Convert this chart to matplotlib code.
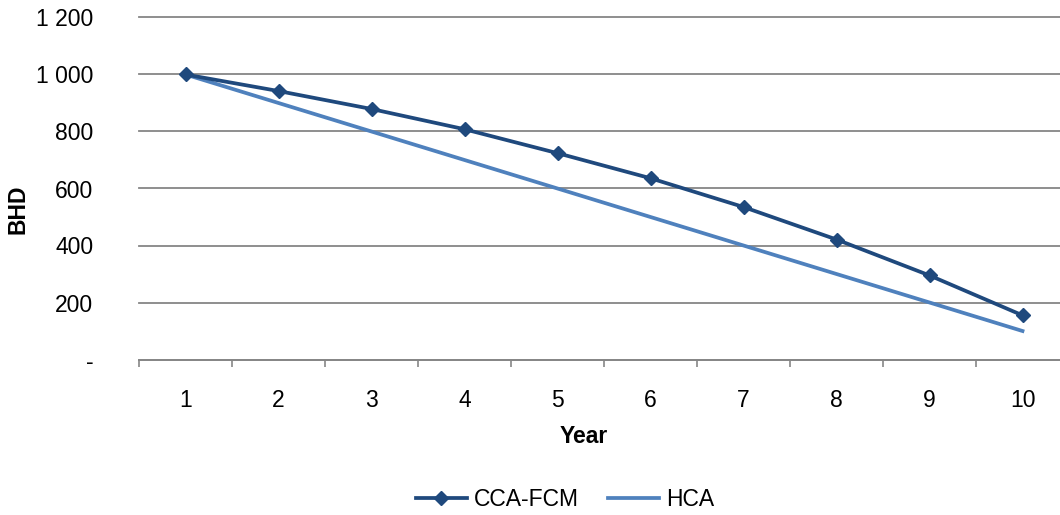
import numpy as np
import matplotlib.pyplot as plt
from matplotlib.ticker import FixedLocator

plt.rcParams['font.family'] = ['Liberation Sans', 'DejaVu Sans']

years = [1, 2, 3, 4, 5, 6, 7, 8, 9, 10]
cca_fcm = [1000, 942, 879, 808, 724, 636, 535, 421, 295, 155]
hca = [1000, 900, 800, 700, 600, 500, 400, 300, 200, 100]
yticks = [0, 200, 400, 600, 800, 1000, 1200]
ylabels = ['-', '200', '400', '600', '800', '1 000', '1 200']

dark = '#1F497D'
light = '#4F81BD'
grid = '#868686'
fs = 16.5

fig = plt.figure(figsize=(10.6, 5.15), dpi=100)
ax = fig.add_axes([139 / 1060, 1 - 359.5 / 515, 930 / 1060, 342 / 515])

ax.plot(years, cca_fcm, color=dark, lw=2.7, marker='D', ms=7, label='CCA-FCM', zorder=3)
ax.plot(years, hca, color=light, lw=2.7, label='HCA', zorder=2)

ax.set_xlim(0.5, 10.5)
ax.set_ylim(0, 1200)

ax.set_yticks(yticks)
ax.set_yticklabels(ylabels)
ax.set_xticks(years)
ax.xaxis.set_minor_locator(FixedLocator(np.arange(0.5, 10.6, 1)))
ax.tick_params(axis='y', length=0, pad=33, labelsize=fs)
ax.tick_params(axis='x', which='major', length=0, pad=21, labelsize=fs)
ax.tick_params(axis='x', which='minor', length=5, width=1.2, color=grid, direction='out')

ax.grid(axis='y', color=grid, lw=1.3)
for gl in ax.get_ygridlines():
    gl.set_clip_on(False)
ax.set_axisbelow(True)
for s in ['top', 'right', 'left']:
    ax.spines[s].set_visible(False)
ax.spines['bottom'].set_color(grid)
ax.spines['bottom'].set_linewidth(1.3)

ax.set_xlabel('Year', fontsize=fs, fontweight='bold', va='center')
ax.xaxis.set_label_coords(0.4785, -0.2256)
ax.set_ylabel('BHD', fontsize=fs, fontweight='bold', va='center')
ax.yaxis.set_label_coords(-0.1296, 0.44)

fig.legend(loc='center', bbox_to_anchor=(565 / 1060, 1 - 500 / 515), ncol=2, frameon=False,
           fontsize=fs, handlelength=2.2, handletextpad=0.3, columnspacing=1.3,
           borderpad=0, borderaxespad=0)

fig.savefig('out.png', dpi=100)
